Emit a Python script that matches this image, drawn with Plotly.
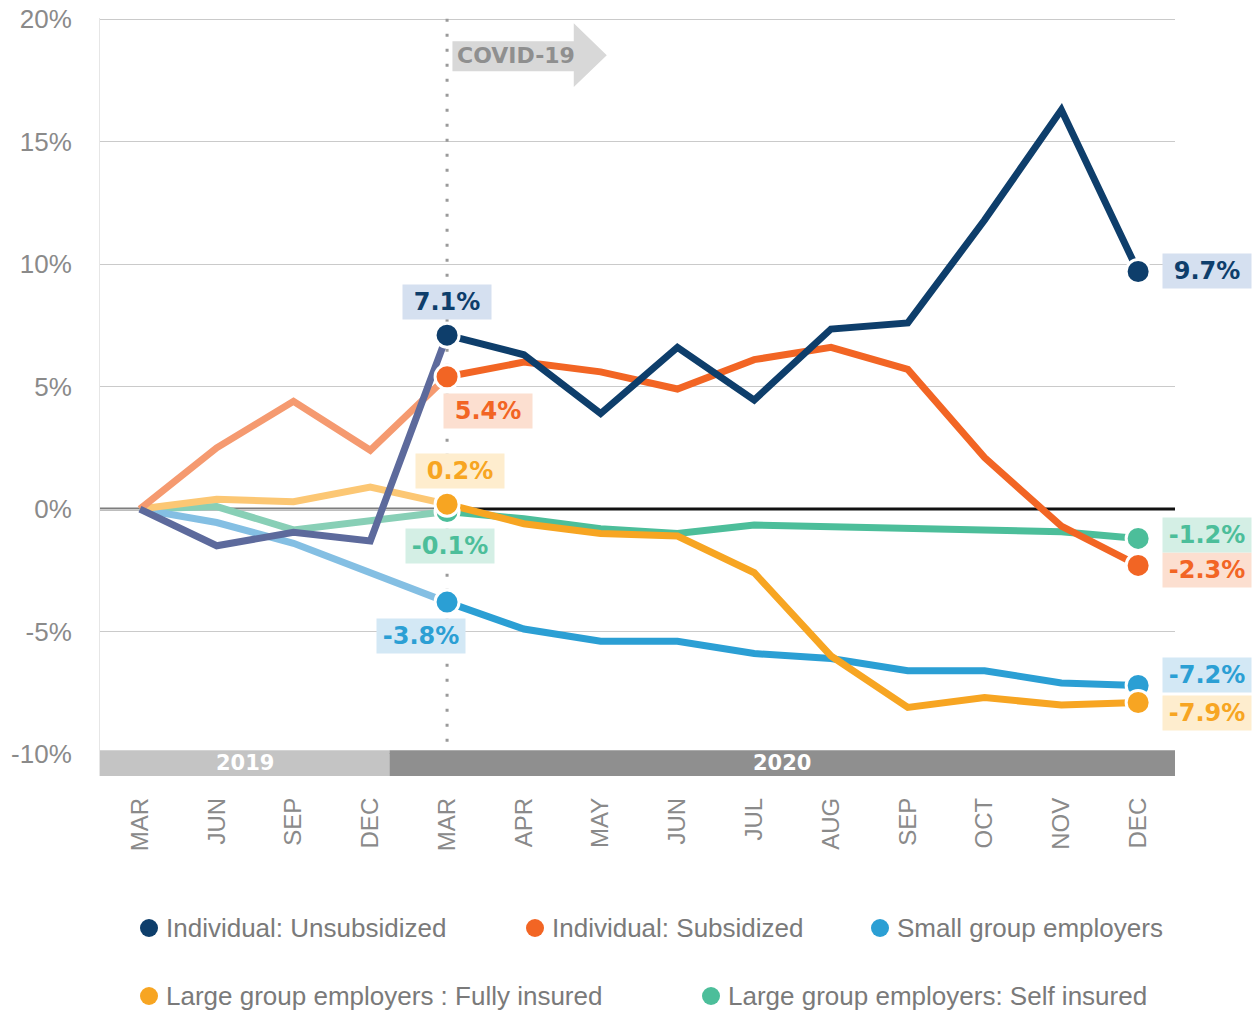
import plotly.graph_objects as go

# ---- data -------------------------------------------------------------
months = ["MAR", "JUN", "SEP", "DEC", "MAR", "APR", "MAY", "JUN",
          "JUL", "AUG", "SEP", "OCT", "NOV", "DEC"]
years = ["2019", "2020"]
covid_idx = 4  # first 2020 point (MAR 2020)

series_names = [
    "Individual: Unsubsidized",
    "Individual: Subsidized",
    "Small group employers",
    "Large group employers : Fully insured",
    "Large group employers: Self insured",
]
unsubsidized = [0, -1.5, -0.95, -1.3, 7.1, 6.3, 3.9, 6.6, 4.45, 7.35, 7.6, 11.8, 16.3, 9.7]
subsidized = [0, 2.5, 4.4, 2.4, 5.4, 6.0, 5.6, 4.9, 6.1, 6.6, 5.7, 2.1, -0.7, -2.3]
small_group = [0, -0.55, -1.4, -2.6, -3.8, -4.9, -5.4, -5.4, -5.9, -6.1, -6.6, -6.6, -7.1, -7.2]
fully_insured = [0, 0.4, 0.3, 0.9, 0.2, -0.6, -1.0, -1.1, -2.6, -6.0, -8.1, -7.7, -8.0, -7.9]
self_insured = [0, 0.1, -0.85, -0.45, -0.1, -0.4, -0.8, -1.0, -0.65, -0.73, -0.78, -0.86, -0.93, -1.2]

y_ticks = [-10, -5, 0, 5, 10, 15, 20]

# ---- styles -----------------------------------------------------------
colors = ["#0e3e6b", "#f26524", "#2b9fd4", "#f7a522", "#4cbe9a"]
faded = ["#5d6a9c", "#f59a70", "#84bfe3", "#fcc774", "#88cfb6"]
label_bg = ["#d5e0f0", "#fcdfd0", "#d3e8f5", "#feedce", "#d4efe5"]

values = [unsubsidized, subsidized, small_group, fully_insured, self_insured]

# pixel offsets of the value boxes relative to their point (x, y)
start_offsets = [(0, 33), (41, -34), (-26, -34), (13, 33), (3, -34)]
end_offsets = [(69, 0), (69, -5), (69, 10), (69, -10), (69, 3)]

draw_order = [4, 2, 3, 1, 0]  # bottom to top

x_all = list(range(len(months)))
X_MIN, X_MAX = -0.52, 13.48
Y_MIN, Y_MAX = -10.9, 20.05
LINE_W = 7

fig = go.Figure()

# 2019 (pre-COVID) segments, muted
for i in draw_order:
    fig.add_trace(go.Scatter(
        x=x_all[:covid_idx + 1], y=values[i][:covid_idx + 1],
        mode="lines", line=dict(color=faded[i], width=LINE_W),
        hoverinfo="skip", showlegend=False))

# 2020 segments
for i in draw_order:
    fig.add_trace(go.Scatter(
        x=x_all[covid_idx:], y=values[i][covid_idx:],
        mode="lines", line=dict(color=colors[i], width=LINE_W),
        name=series_names[i], showlegend=False))

# end-point markers
for i in draw_order:
    fig.add_trace(go.Scatter(
        x=[x_all[covid_idx], x_all[-1]],
        y=[values[i][covid_idx], values[i][-1]],
        mode="markers",
        marker=dict(color=colors[i], size=24, line=dict(color="white", width=3)),
        hoverinfo="skip", showlegend=False))

annotations = []
for i in range(len(values)):
    for idx, (dx, dy) in ((covid_idx, start_offsets[i]), (len(months) - 1, end_offsets[i])):
        annotations.append(dict(
            x=x_all[idx], y=values[i][idx], xref="x", yref="y",
            text=f"{values[i][idx]:.1f}%", showarrow=False,
            xshift=dx, yshift=dy, bgcolor=label_bg[i],
            width=80, height=26, borderpad=4,
            font=dict(family="DejaVu Sans", size=24, color=colors[i], weight="bold")))

shapes = []
# zero line: muted before COVID, black after
shapes.append(dict(type="line", xref="paper", yref="y", x0=0, x1=(covid_idx - X_MIN) / (X_MAX - X_MIN),
                   y0=0, y1=0, line=dict(color="#7d7d7d", width=3), layer="between"))
shapes.append(dict(type="line", xref="x", yref="y", x0=covid_idx, x1=X_MAX,
                   y0=0, y1=0, line=dict(color="#111111", width=3), layer="between"))
# COVID marker line
shapes.append(dict(type="line", xref="x", yref="y", x0=covid_idx, x1=covid_idx,
                   y0=-9.5, y1=Y_MAX, line=dict(color="#9a9a9a", width=3, dash="3px,12px"),
                   layer="between"))
# COVID arrow
ax0, ax1, ax2 = 4.07, 5.65, 6.08
shapes.append(dict(
    type="path", xref="x", yref="y",
    path=(f"M {ax0},19.10 L {ax1},19.10 L {ax1},19.84 L {ax2},18.53 "
          f"L {ax1},17.23 L {ax1},17.88 L {ax0},17.88 Z"),
    fillcolor="#d8d8d8", line=dict(width=0), layer="between"))
annotations.append(dict(x=4.9, y=18.5, xref="x", yref="y", text="COVID-19", showarrow=False,
                        font=dict(family="DejaVu Sans", size=22, color="#8f8f8f", weight="bold")))

# year band along the bottom
year_split = 3.25
shapes.append(dict(type="rect", xref="paper", yref="y", x0=0, x1=(year_split - X_MIN) / (X_MAX - X_MIN),
                   y0=Y_MIN, y1=-9.85, fillcolor="#c4c4c4", line=dict(width=0), layer="above"))
shapes.append(dict(type="rect", xref="x", yref="y", x0=year_split, x1=X_MAX,
                   y0=Y_MIN, y1=-9.85, fillcolor="#8f8f8f", line=dict(width=0), layer="above"))
for label, (a, b) in zip(years, [(X_MIN, year_split), (year_split, X_MAX)]):
    annotations.append(dict(x=(a + b) / 2, y=(Y_MIN - 9.85) / 2, xref="x", yref="y",
                            text=label, showarrow=False,
                            font=dict(family="DejaVu Sans", size=21, color="white", weight="bold")))

# legend drawn below the chart
PLOT_L, PLOT_W, PLOT_B, PLOT_H = 100, 1075, 776, 758
legend_pos = [(149, 928), (535, 928), (880, 928), (149, 996), (711, 996)]
for i, (px, py) in enumerate(legend_pos):
    cx = (px - PLOT_L) / PLOT_W
    cy = (PLOT_B - py) / PLOT_H
    r_x, r_y = 9 / PLOT_W, 9 / PLOT_H
    shapes.append(dict(type="circle", xref="paper", yref="paper",
                       x0=cx - r_x, x1=cx + r_x, y0=cy - r_y, y1=cy + r_y,
                       fillcolor=colors[i], line=dict(width=0)))
    annotations.append(dict(x=(px + 15 - PLOT_L) / PLOT_W, y=cy, xref="paper", yref="paper",
                            xanchor="left", yanchor="middle", text=series_names[i],
                            showarrow=False,
                            font=dict(family="Liberation Sans", size=26, color="#7a7a7a")))

fig.update_layout(
    width=1253, height=1011,
    margin=dict(l=PLOT_L, r=1253 - PLOT_L - PLOT_W, t=18, b=1011 - 18 - PLOT_H),
    paper_bgcolor="white", plot_bgcolor="white",
    shapes=shapes, annotations=annotations,
    showlegend=False,
)
fig.update_xaxes(
    range=[X_MIN, X_MAX], tickvals=x_all, ticktext=months, tickangle=-90,
    showgrid=False, zeroline=False, showline=False, ticks="",
    ticklabelstandoff=16, automargin=False,
    tickfont=dict(family="Liberation Sans", size=24, color="#8a8a8a"),
)
fig.update_yaxes(
    range=[Y_MIN, Y_MAX], tickvals=y_ticks, ticktext=[f"{v}%" for v in y_ticks],
    showgrid=True, gridcolor="#cacaca", gridwidth=1,
    zeroline=False, showline=True, linecolor="#e6e6e6", linewidth=1, ticks="",
    ticklabelstandoff=22, automargin=False,
    tickfont=dict(family="Liberation Sans", size=26, color="#8a8a8a"),
)

fig.write_html("out.html")
